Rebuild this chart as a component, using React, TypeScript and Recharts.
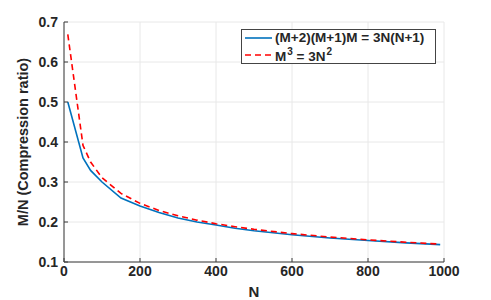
import { CartesianGrid, Legend, Line, LineChart, XAxis, YAxis } from 'recharts'

const nValues = [10, 50, 70, 100, 150, 200, 250, 300, 350, 400, 450, 500, 600, 700, 800, 900, 990]
const exactRatio = [0.5, 0.36, 0.329, 0.3, 0.26, 0.24, 0.224, 0.21, 0.2, 0.1925, 0.1844, 0.178, 0.1683, 0.16, 0.1538, 0.1478, 0.1434]
const approxRatio = [0.669, 0.3915, 0.35, 0.3107, 0.2714, 0.2466, 0.2289, 0.2154, 0.2046, 0.1957, 0.1882, 0.1817, 0.171, 0.1624, 0.1554, 0.1494, 0.1447]
const xTicks = [0, 200, 400, 600, 800, 1000]
const yTicks = [0.1, 0.2, 0.3, 0.4, 0.5, 0.6, 0.7]

const data = nValues.map((n, i) => ({ n, exact: exactRatio[i], approx: approxRatio[i] }))

const FONT = '"Liberation Sans", Arial, Helvetica, sans-serif'
const AXIS = '#3a3a3a'
const tickStyle = { fontSize: 14, fontWeight: 700, fill: '#262626', fontFamily: FONT }

// show ² and ³ as real superscripts, like the original figure
function withSup(label: string) {
  return label.split(/([²³])/).map((part, i) =>
    part === '²' || part === '³' ? (
      <sup key={i} style={{ fontSize: 10, verticalAlign: 6, marginLeft: 1 }}>
        {part === '²' ? '2' : '3'}
      </sup>
    ) : (
      <span key={i}>{part}</span>
    )
  )
}

function LegendBox({ payload }: any) {
  return (
    <div
      style={{
        border: '1px solid #444',
        background: '#fff',
        width: 193,
        height: 33,
        fontFamily: FONT,
        fontWeight: 700,
        fontSize: 13.5,
        color: '#262626',
        boxSizing: 'content-box',
      }}
    >
      {(payload || []).map((entry: any) => (
        <div key={entry.value} style={{ display: 'flex', alignItems: 'center', height: 16.5, paddingLeft: 3 }}>
          <svg width={28} height={6} style={{ marginRight: 2 }}>
            <line
              x1={0}
              y1={3}
              x2={27}
              y2={3}
              stroke={entry.color}
              strokeWidth={1.6}
              strokeDasharray={entry.payload?.strokeDasharray}
            />
          </svg>
          <span style={{ whiteSpace: 'nowrap', lineHeight: '16px' }}>{withSup(entry.value)}</span>
        </div>
      ))}
    </div>
  )
}

export default function App() {
  return (
    <div style={{ position: 'absolute', left: 0, top: 0, width: 491, height: 300, background: '#fff' }}>
      <LineChart width={491} height={300} data={data} margin={{ top: 22, right: 47, left: 0, bottom: 0 }}>
        <CartesianGrid stroke="#e8e8e8" />
        <XAxis
          dataKey="n"
          type="number"
          domain={[0, 1000]}
          ticks={xTicks}
          height={38}
          stroke={AXIS}
          tickSize={-4}
          tickMargin={8}
          tick={tickStyle}
          label={{ value: 'N', position: 'insideBottom', offset: 3, style: { ...tickStyle, fontSize: 15 } }}
        />
        <XAxis xAxisId="top" orientation="top" type="number" domain={[0, 1000]} ticks={xTicks} height={0} stroke={AXIS} tickSize={-4} tick={false} />
        <YAxis
          type="number"
          domain={[0.1, 0.7]}
          ticks={yTicks}
          width={64}
          stroke={AXIS}
          tickSize={-4}
          tickMargin={10}
          tick={tickStyle}
          tickFormatter={(v: number) => v.toFixed(1)}
          label={{ value: 'M/N (Compression ratio)', angle: -90, position: 'center', dx: -9, style: { ...tickStyle, fontSize: 14.5 } }}
        />
        <YAxis yAxisId="right" orientation="right" type="number" domain={[0.1, 0.7]} ticks={yTicks} width={0} stroke={AXIS} tickSize={-4} tick={false} />
        <Legend
          layout="horizontal"
          verticalAlign="middle"
          align="center"
          wrapperStyle={{ left: 241, top: 29, width: 195, height: 35 }}
          content={<LegendBox />}
        />
        <Line
          type="linear"
          name="(M+2)(M+1)M = 3N(N+1)"
          dataKey="exact"
          stroke="#0072BD"
          strokeWidth={1.6}
          dot={false}
          isAnimationActive={false}
        />
        <Line
          type="linear"
          name="M³ = 3N²"
          dataKey="approx"
          stroke="#FF0000"
          strokeWidth={1.6}
          strokeDasharray="6 4"
          dot={false}
          isAnimationActive={false}
        />
      </LineChart>
    </div>
  )
}
